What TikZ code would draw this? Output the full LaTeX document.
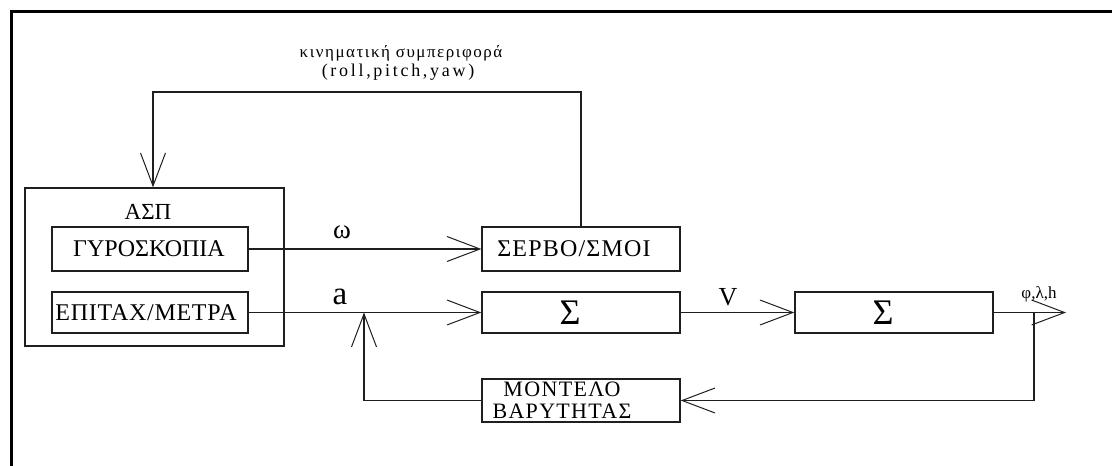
\documentclass[tikz,border=0pt]{standalone}
\usepackage{fontspec}
\setmainfont{Liberation Serif}
\usetikzlibrary{arrows.meta}

\begin{document}
\begin{tikzpicture}[x=1pt,y=-1pt,
  blk/.style={draw=black!88, line width=1.3pt, inner sep=0pt, fill=none},
  txt/.style={inner sep=0pt, align=center},
  wire/.style={draw=black!88, line width=1.3pt},
  arr/.style={wire, -{Straight Barb[length=33pt,width=25pt,line width=1pt]}},
  frame/.style={draw=black, line width=3pt, line cap=rect}]

  \useasboundingbox (0,0) rectangle (1112,466);
  % outer frame (left and top sides)
  \draw[frame] (11,466) -- (11,11) -- (1112,11);

  % inertial measurement unit and its sensors
  \node[blk, minimum width=259pt, minimum height=158pt] (asp) at (154.5,267) {};
  \node[txt, font=\fontsize{23}{25}\selectfont] (aspt) at (148,212) {ΑΣΠ};
  \node[blk, minimum width=196pt, minimum height=44pt] (gyro) at (150,249) {};
  \node[txt, font=\fontsize{24}{26}\selectfont] at (149,249) {ΓΥΡΟΣΚΟΠΙΑ};
  \node[blk, minimum width=196pt, minimum height=41pt] (acc) at (150,312.5) {};
  \node[txt, font=\fontsize{24}{26}\selectfont\addfontfeature{LetterSpace=3}] at (146,312.5) {ΕΠΙΤΑΧ/ΜΕΤΡΑ};

  % processing blocks
  \node[blk, minimum width=198pt, minimum height=44pt] (servo) at (581,249) {};
  \node[txt, font=\fontsize{24}{26}\selectfont\addfontfeature{LetterSpace=5}] at (574,249) {ΣΕΡΒΟ/ΣΜΟΙ};
  \node[blk, minimum width=198pt, minimum height=41pt] (sumA) at (581,312.5) {};
  \node[txt, font=\fontsize{36}{38}\selectfont] at (570,312.5) {Σ};
  \node[blk, minimum width=198pt, minimum height=41pt] (sumB) at (894,312.5) {};
  \node[txt, font=\fontsize{36}{38}\selectfont] at (883,312.5) {Σ};
  \node[blk, minimum width=198pt, minimum height=43pt] (grav) at (581,400.5) {};
  \node[txt, font=\fontsize{22}{22}\selectfont\addfontfeature{LetterSpace=6}] at (562,400.5) {ΜΟΝΤΕΛΟ\\ΒΑΡΥΤΗΤΑΣ};

  % helper points
  \coordinate (tl) at (153,92);
  \coordinate (out) at (1066,312.5);
  \coordinate (br) at (1034,312.5);
  \coordinate (aj) at (364,312.5);

  % connectors
  \draw[arr] (gyro.east) -- (servo.west);
  \draw[arr] (acc.east) -- (sumA.west);
  \draw[arr] (sumA.east) -- (sumB.west);
  \draw[arr] (sumB.east) -- (out);
  \draw[arr] (br) |- (grav.east);
  \draw[arr] (grav.west) -| (aj);
  \draw[arr] (servo.north) |- (tl) -- (tl |- asp.north);

  % signal labels
  \node[txt, font=\fontsize{17}{19}\selectfont\addfontfeature{LetterSpace=9}] at (401,53) {κινηματική συμπεριφορά};
  \node[txt, font=\fontsize{18}{20}\selectfont\addfontfeature{LetterSpace=15}] at (398,72) {(roll,pitch,yaw)};
  \node[txt, font=\fontsize{27}{29}\selectfont] at (342,232) {ω};
  \node[txt, font=\fontsize{33}{35}\selectfont] at (340,297) {a};
  \node[txt, font=\fontsize{26}{28}\selectfont] at (728,297) {V};
  \node[txt, font=\fontsize{17}{19}\selectfont] at (1039,294) {φ,λ,h};
\end{tikzpicture}
\end{document}
